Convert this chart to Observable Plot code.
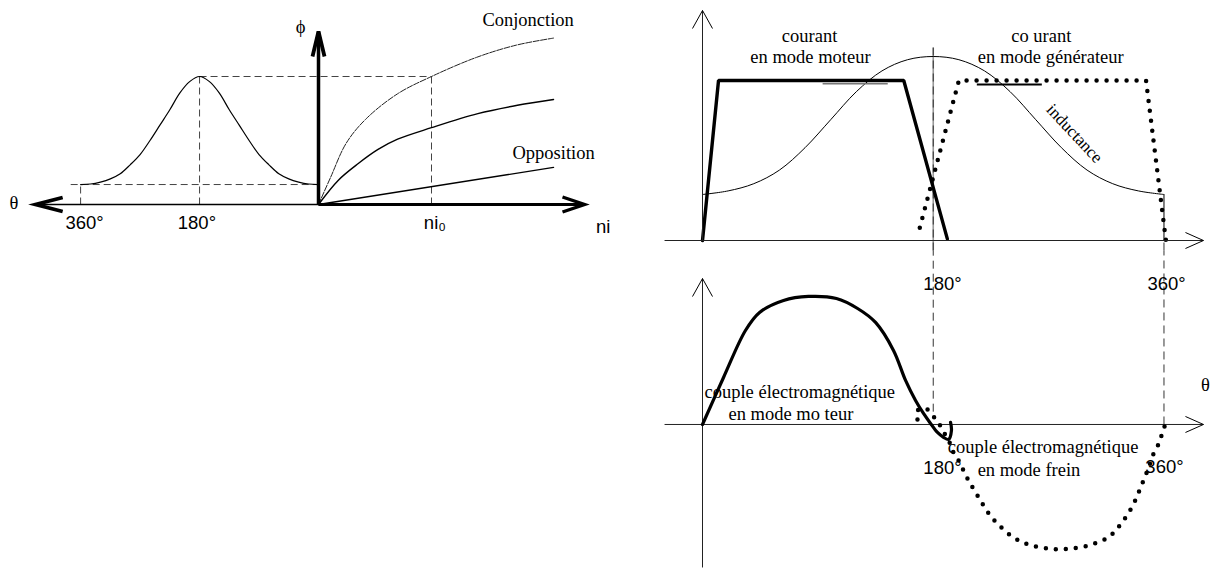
<!DOCTYPE html>
<html><head><meta charset="utf-8">
<script src="https://cdn.jsdelivr.net/npm/d3@7"></script>
<script src="https://cdn.jsdelivr.net/npm/@observablehq/plot@0.6"></script>
<style>
html,body{margin:0;padding:0;background:#fff;}
#root{position:relative;width:1210px;height:568px;overflow:hidden;background:#fff;}
#root > svg{position:absolute;}
</style></head><body><div id="root"></div>
<script>
// ---------- Left panel: flux vs position (θ, to the left) and vs ni (to the right) ----------
const bellTheta = [0,15,30,45,60,75,90,105,120,135,150,165,180,195,210,225,240,255,270,285,300,315,330,345,360];
const bellPhi   = [0.156,0.16,0.175,0.20,0.24,0.31,0.39,0.50,0.62,0.74,0.87,0.96,1.0,0.96,0.87,0.74,0.62,0.50,0.39,0.31,0.24,0.20,0.175,0.16,0.156];
const niConj  = [0, 0.106, 0.246, 0.422, 0.70, 1.0, 1.40, 1.75, 2.08];
const phiConj = [0, 0.21, 0.48, 0.67, 0.865, 1.0, 1.15, 1.245, 1.30];
const niMid   = [0, 0.176, 0.352, 0.527, 0.70, 1.0, 1.41, 1.76, 2.08];
const phiMid  = [0, 0.19, 0.32, 0.43, 0.51, 0.60, 0.71, 0.775, 0.82];
const niOpp   = [0, 2.08];
const phiOpp  = [0, 0.29];
const ni0 = 1.0;
const leftThetaTicks = ["360°", "180°"];
const leftLabels = {theta: "θ", phi: "ϕ", ni0: "ni₀", ni: "ni", conj: "Conjonction", opp: "Opposition"};

// ---------- Right top: currents and inductance vs θ ----------
const motorCurTheta = [0, 12.5, 157, 191];
const motorCur      = [0, 1, 1, 0.01];
const genCurTheta   = [169.5, 200, 346, 361.5];
const genCur        = [0.08, 1, 1, 0];
const indTheta = [0,20,40,60,80,100,120,140,160,180,200,220,240,260,280,300,320,340,360];
const indL     = [0.2875,0.31,0.355,0.44,0.58,0.755,0.93,1.06,1.13,1.15,1.13,1.06,0.93,0.755,0.58,0.44,0.355,0.31,0.2875];
const motorRefTheta = [93.7, 144.5], motorRefLevel = 0.98;
const genRefTheta   = [214, 264.7],  genRefLevel   = 0.975;

// ---------- Right bottom: torque vs θ ----------
const motorTqTheta = [0, 16.4, 33.5, 44.5, 63.2, 82.7, 104.5, 121, 135, 149, 158.4, 166.2, 172.4, 177.9, 183.3, 188, 191.9, 194.2, 193.5];
const motorTq      = [0, 0.367, 0.734, 0.875, 0.969, 1.0, 0.984, 0.906, 0.797, 0.578, 0.344, 0.1875, 0.086, 0.008, -0.0625, -0.10, -0.117, -0.047, 0.016];
const brakeTheta = [167.7, 167.7, 174, 180.2, 184.9, 188.8, 192.7, 195.8, 199.7, 206.6, 216, 224.4, 232.7, 242.3, 253.3, 269.8, 286.3, 302.8, 316.6, 326.2, 335.8, 342.7, 348.2, 352.6, 356.5, 358.8, 361.5];
const brakeTq    = [0.039, 0.109, 0.125, 0.0625, 0, -0.07, -0.14, -0.22, -0.28, -0.42, -0.58, -0.71, -0.80, -0.88, -0.935, -0.97, -0.97, -0.94, -0.88, -0.78, -0.63, -0.47, -0.33, -0.21, -0.14, -0.06, 0.01];
const angleTicks = ["180°", "360°"];
const rightTexts = {
  cur1: "courant", cur1b: "en mode moteur",
  cur2: "co urant", cur2b: "en mode générateur",
  ind: "inductance",
  tq1: "couple électromagnétique", tq1b: "en mode mo teur",
  tq2: "couple électromagnétique", tq2b: "en mode frein",
  theta: "θ"
};

// ---------- helpers ----------
const SERIF = "'Liberation Serif','Times New Roman',serif";
const SANS = "'Liberation Sans',Arial,sans-serif";
const FS = 18.5;
const pts = (xs, ys) => xs.map((x, i) => ({x, y: ys[i]}));
const seg = (x1, y1, x2, y2, o = {}) =>
  Plot.link([{x1, y1, x2, y2}], {x1: "x1", y1: "y1", x2: "x2", y2: "y2", stroke: "#000", ...o});
const chevron = {draw(ctx, l, r) { ctx.moveTo(-r, l); ctx.lineTo(0, 0); ctx.lineTo(r, l); }};
const head = (x, y, rotate, length, r, sw) =>
  Plot.vector([{x, y}], {x: "x", y: "y", rotate, length, r, shape: chevron, anchor: "start",
    stroke: "#000", strokeWidth: sw, strokeLinecap: "butt", strokeLinejoin: "miter"});
const label = (t, x, y, o = {}) =>
  Plot.text([t], {x: () => x, y: () => y, text: d => d, fill: "#000", fontSize: FS, fontFamily: SERIF, ...o});
const root = document.getElementById("root");
const place = (svg, left, top) => { svg.style.left = left + "px"; svg.style.top = top + "px"; root.appendChild(svg); };
const baseStyle = {background: "transparent", overflow: "visible"};

// ---------- left panel ----------
const TH = 171; // degrees of θ per ni₀ unit on the shared horizontal axis
const hT = t => -t / TH;
const phiMin = bellPhi[0], phiMax = d3.max(bellPhi);
const dashL = {stroke: "#444", strokeWidth: 1, strokeDasharray: "7,4"};
const leftPlot = Plot.plot({
  width: 620, height: 240, margin: 0, style: baseStyle,
  x: {domain: [-318 / 113, (620 - 318) / 113], axis: null},
  y: {domain: [(204 - 240) / 128, 204 / 128], axis: null},
  marks: [
    seg(hT(375), phiMin, 0, phiMin, dashL),
    seg(hT(180), phiMax, ni0, phiMax, dashL),
    seg(hT(180), 0, hT(180), phiMax, dashL),
    seg(ni0, 0, ni0, phiMax, dashL),
    seg(hT(360), 0, hT(360), phiMin, dashL),
    Plot.line(pts(bellTheta.map(hT), bellPhi), {x: "x", y: "y", curve: "catmull-rom", stroke: "#000", strokeWidth: 1.2}),
    Plot.line(pts(niConj, phiConj), {x: "x", y: "y", curve: "catmull-rom", stroke: "#222", strokeWidth: 1, strokeDasharray: "6,1.5"}),
    Plot.line(pts(niMid, phiMid), {x: "x", y: "y", curve: "catmull-rom", stroke: "#000", strokeWidth: 1.4}),
    Plot.line(pts(niOpp, phiOpp), {x: "x", y: "y", stroke: "#000", strokeWidth: 1.3}),
    seg(hT(428), 0, 0, 0, {strokeWidth: 1.6}),
    seg(0, 0, 2.354, 0, {strokeWidth: 3.2}),
    seg(0, 0, 0, 1.352, {strokeWidth: 3.5}),
    head(hT(428), 0, -90, 27, 7, 3.8),
    head(2.354, 0, 90, 22, 7.5, 3.4),
    head(0, 1.352, 0, 25, 6, 3.8),
    label(leftThetaTicks[0], hT(354), -0.142, {fontFamily: SANS}),
    label(leftThetaTicks[1], hT(184), -0.142, {fontFamily: SANS}),
    label(leftLabels.ni0, 1.03, -0.142, {fontFamily: SANS}),
    label(leftLabels.ni, 2.52, -0.18, {fontFamily: SANS}),
    label(leftLabels.theta, hT(461), 0.008),
    label(leftLabels.phi, hT(27), 1.385),
    label(leftLabels.conj, 1.855, 1.4375),
    label(leftLabels.opp, 2.08, 0.398)
  ]
});
place(leftPlot, 0, 0);

// ---------- right panels ----------
const KX = 1.2819; // px per degree
const xDomain = [-42 / KX, (550 - 42) / KX];
const dashR = {stroke: "#333", strokeWidth: 1, strokeDasharray: "8,5"};
const dotted = {stroke: "#000", strokeWidth: 4.5, strokeDasharray: "0,10", strokeLinecap: "round", fill: "none"};

const topPlot = Plot.plot({
  width: 550, height: 250, margin: 0, style: baseStyle,
  x: {domain: xDomain, axis: null},
  y: {domain: [-0.0625, 1.5], axis: null},
  marks: [
    seg(180, -0.0625, 180, 1.206, {stroke: "#999", strokeWidth: 1.6}),
    seg(180, -0.0625, 180, 1.206, dashR),
    seg(360, -0.0625, 360, 0, dashR),
    seg(360, 0, 360, indL[indL.length - 1], {strokeWidth: 1}),
    Plot.line(pts(indTheta, indL), {x: "x", y: "y", curve: "catmull-rom", stroke: "#000", strokeWidth: 1}),
    seg(motorRefTheta[0], motorRefLevel, motorRefTheta[1], motorRefLevel, {stroke: "#777", strokeWidth: 1.6}),
    seg(genRefTheta[0], genRefLevel, genRefTheta[1], genRefLevel, {strokeWidth: 2}),
    Plot.line(pts(motorCurTheta, motorCur), {x: "x", y: "y", stroke: "#000", strokeWidth: 3.4, strokeLinejoin: "miter"}),
    Plot.line(pts(genCurTheta, genCur), {x: "x", y: "y", ...dotted}),
    seg(-29.6, 0, 390.8, 0, {stroke: "#222", strokeWidth: 1}),
    seg(0, 0, 0, 1.4375, {stroke: "#222", strokeWidth: 1}),
    head(390.8, 0, 90, 18, 8, 1),
    head(0, 1.4375, 0, 18, 10, 1),
    label(rightTexts.cur1, 83.5, 1.275),
    label(rightTexts.cur1b, 84.2, 1.144),
    label(rightTexts.cur2, 264.3, 1.275),
    label(rightTexts.cur2b, 271.7, 1.144),
    label(rightTexts.ind, 290.2, 0.669, {rotate: 47, fontSize: 17})
  ]
});
place(topPlot, 660, 0);

const botPlot = Plot.plot({
  width: 550, height: 318, margin: 0, style: baseStyle,
  x: {domain: xDomain, axis: null},
  y: {domain: [-1.125, 1.359], axis: null},
  marks: [
    seg(180, 0.1, 180, 1.359, dashR),
    seg(360, 0, 360, 1.359, dashR),
    seg(-29.6, 0, 390.8, 0, {stroke: "#222", strokeWidth: 1}),
    seg(0, -1.117, 0, 1.14, {stroke: "#222", strokeWidth: 1}),
    head(390.8, 0, 90, 18, 8, 1),
    head(0, 1.14, 0, 18, 10, 1),
    Plot.line(pts(motorTqTheta, motorTq), {x: "x", y: "y", curve: "catmull-rom", stroke: "#000", strokeWidth: 3.2, strokeLinejoin: "round"}),
    Plot.line(pts(brakeTheta, brakeTq), {x: "x", y: "y", curve: "catmull-rom", ...dotted}),
    label(angleTicks[0], 187.2, 1.10, {fontFamily: SANS}),
    label(angleTicks[1], 362, 1.10, {fontFamily: SANS}),
    label(angleTicks[0], 187.2, -0.344, {fontFamily: SANS}),
    label(angleTicks[1], 360.4, -0.336, {fontFamily: SANS}),
    label(rightTexts.tq1, 75.9, 0.252),
    label(rightTexts.tq1b, 69, 0.078),
    label(rightTexts.tq2, 265.7, -0.177),
    label(rightTexts.tq2b, 254.7, -0.354),
    label(rightTexts.theta, 392.4, 0.305)
  ]
});
place(botPlot, 660, 250);
</script></body></html>
